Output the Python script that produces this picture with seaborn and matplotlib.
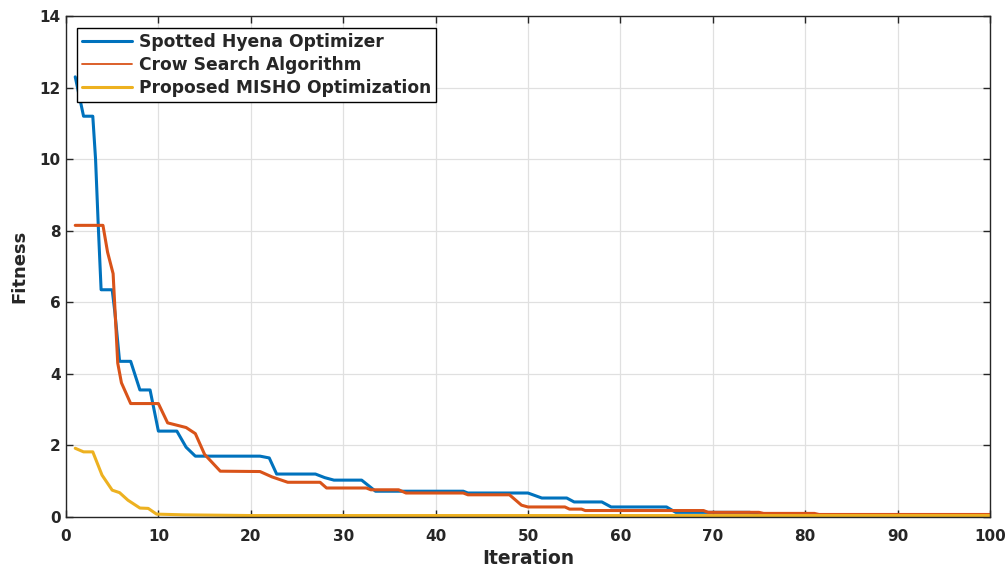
import numpy as np
import pandas as pd
import seaborn as sns
import matplotlib.pyplot as plt

# vertices of the convergence curves
sho_iter = [1, 1.9, 2.9, 3.2, 3.5, 3.8, 5.0, 5.3, 5.8, 7.0, 8.0, 9.1, 10.0, 12.0, 13.0, 14.0,
            21.0, 22.0, 22.8, 27.0, 28.0, 29.0, 32.0, 33.5, 43.0, 43.5, 50.0, 51.5, 54.2,
            55.0, 58.0, 59.0, 65.0, 66.0, 74.0, 75.0, 100]
sho_fit = [12.3, 11.2, 11.2, 10.0, 8.1, 6.35, 6.35, 5.7, 4.35, 4.35, 3.55, 3.55, 2.4, 2.4, 1.95, 1.7,
           1.7, 1.65, 1.2, 1.2, 1.1, 1.03, 1.03, 0.72, 0.72, 0.67, 0.67, 0.53, 0.53,
           0.42, 0.42, 0.28, 0.28, 0.13, 0.13, 0.06, 0.06]

csa_iter = [1, 4.0, 4.5, 5.1, 5.6, 6.0, 7.0, 10.0, 11.0, 13.0, 14.0, 15.0, 16.7, 21.0, 22.3,
            24.0, 27.5, 28.2, 32.5, 33.0, 36.0, 36.8, 43.0, 43.5, 48.0, 49.3, 50.0, 54.0,
            54.5, 55.8, 56.2, 69.0, 69.5, 75.0, 75.5, 81.0, 81.5, 100]
csa_fit = [8.15, 8.15, 7.4, 6.8, 4.3, 3.75, 3.17, 3.17, 2.63, 2.5, 2.33, 1.75, 1.28, 1.27, 1.12,
           0.97, 0.97, 0.81, 0.81, 0.76, 0.76, 0.67, 0.67, 0.62, 0.62, 0.33, 0.28, 0.28,
           0.22, 0.22, 0.18, 0.18, 0.13, 0.13, 0.1, 0.1, 0.07, 0.07]

misho_iter = [1, 1.9, 2.9, 3.9, 5.0, 5.8, 6.7, 8.0, 8.9, 9.8, 12.7, 20.0, 100]
misho_fit = [1.92, 1.82, 1.82, 1.17, 0.75, 0.68, 0.47, 0.25, 0.24, 0.08, 0.06, 0.04, 0.04]

sns.set_theme(style="ticks")
plt.rcParams['font.family'] = ['DejaVu Sans']
plt.rcParams['font.weight'] = 'bold'

fig = plt.figure(figsize=(10.06, 5.66), dpi=100)
ax = fig.add_axes([0.0656, 0.0866, 0.9184, 0.8851])

sns.lineplot(x=sho_iter, y=sho_fit, ax=ax, color="#0072BD", lw=2.2,
             estimator=None, label="Spotted Hyena Optimizer")
sns.lineplot(x=csa_iter, y=csa_fit, ax=ax, color="#D95319", lw=2.2,
             estimator=None, label="Crow Search Algorithm")
sns.lineplot(x=misho_iter, y=misho_fit, ax=ax, color="#EDB120", lw=2.2,
             estimator=None, label="Proposed MISHO Optimization")

ax.set_xlim(0, 100)
ax.set_ylim(0, 14)
ax.set_xticks(np.arange(0, 101, 10))
ax.set_yticks(np.arange(0, 15, 2))
ax.grid(True, color="#e0e0e0", lw=0.9)
ax.tick_params(direction="in", top=True, right=True, length=5, width=1,
               labelsize=11, colors="#262626", pad=4)
ax.tick_params(axis="x", pad=9)
for lab in ax.get_xticklabels() + ax.get_yticklabels():
    lab.set_fontweight("bold")
for sp in ax.spines.values():
    sp.set_color("#262626")
    sp.set_linewidth(1)

ax.set_xlabel("Iteration", fontsize=13.5, fontweight="bold", labelpad=3)
ax.set_ylabel("Fitness", fontsize=13, fontweight="bold", labelpad=8)

leg = ax.legend(loc="upper left", bbox_to_anchor=(0.012, 0.977), fancybox=False,
                framealpha=1, edgecolor="black", fontsize=12.3, handlelength=2.9,
                borderpad=0.3, labelspacing=0.3, handletextpad=0.4, borderaxespad=0)
leg.get_frame().set_linewidth(1)
leg.get_lines()[1].set_linewidth(1.3)
for t in leg.get_texts():
    t.set_fontweight("bold")

fig.savefig("out.png", dpi=100)
